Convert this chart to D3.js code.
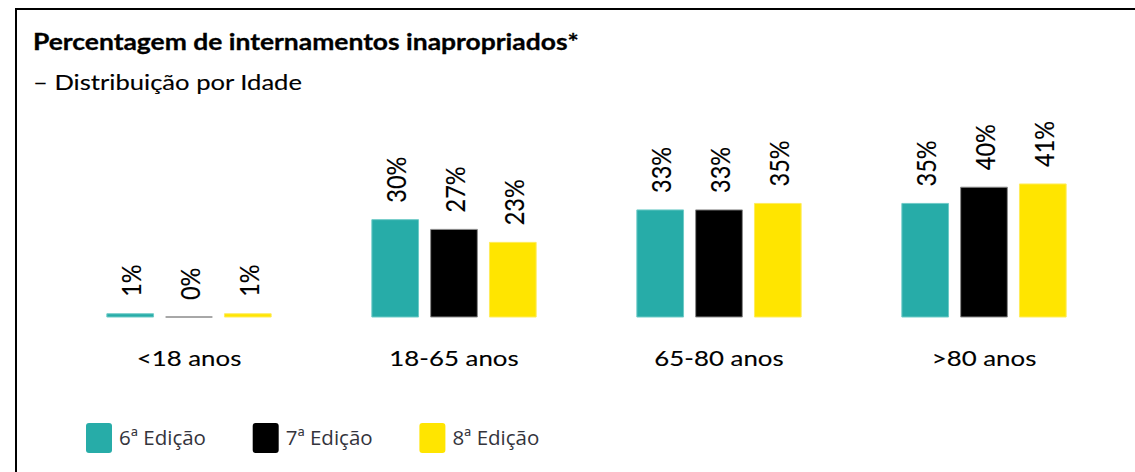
<!DOCTYPE html>
<html>
<head>
<meta charset="utf-8">
<script src="https://cdn.jsdelivr.net/npm/d3@7"></script>
<style>
  body { margin: 0; background: #fff; }
  svg { display: block; }
</style>
</head>
<body>
<div id="chart"></div>
<script>
// chart values
const categories = ["<18 anos", "18-65 anos", "65-80 anos", ">80 anos"];
const seriesNames = ["6ª Edição", "7ª Edição", "8ª Edição"];
const ed6 = [1, 30, 33, 35];
const ed7 = [0, 27, 33, 40];
const ed8 = [1, 23, 35, 41];
const seriesColors = ["#27ACA8", "#000000", "#FFE500"];
const seriesStroke = ["#6FCBC7", "#8a8a8a", "#FFEC5C"];

const titleText = "Percentagem de internamentos inapropriados*";
const subtitleText = "– Distribuição por Idade";

const WIDTH = 1135, HEIGHT = 472;
const FONT = "Lato, 'Open Sans', sans-serif";

let svg = d3.select("#chart").append("svg")
  .attr("width", WIDTH)
  .attr("height", HEIGHT);

svg.append("rect").attr("width", WIDTH).attr("height", HEIGHT).attr("fill", "#fff");

// frame (top + left)
svg.append("line").attr("x1", 15).attr("x2", WIDTH).attr("y1", 9).attr("y2", 9)
  .attr("stroke", "#000").attr("stroke-width", 2);
svg.append("line").attr("x1", 16).attr("x2", 16).attr("y1", 8).attr("y2", HEIGHT)
  .attr("stroke", "#000").attr("stroke-width", 2);

// title (source picture is a bit stretched sideways)
svg.append("text")
  .attr("transform", `translate(33,50) scale(1.175,1)`)
  .style("font-family", FONT).style("font-weight", "bold").style("font-size", "22.5px")
  .attr("fill", "#000").attr("stroke", "#000").attr("stroke-width", 0.3)
  .text(titleText);
svg.append("text")
  .attr("transform", `translate(33,90) scale(1.19,1)`)
  .style("font-family", FONT).style("font-size", "21.5px")
  .attr("fill", "#000").attr("stroke", "#000").attr("stroke-width", 0.12)
  .text(subtitleText);

// scales
let data = categories.map((c, i) => ({
  cat: c,
  values: [ed6[i], ed7[i], ed8[i]].map((v, j) => ({ key: seriesNames[j], idx: j, value: v }))
}));

let x0 = d3.scaleBand()
  .domain(categories)
  .range([56.5, 1116.5])
  .paddingInner(0.38)
  .paddingOuter(0.19);

let x1 = d3.scaleBand()
  .domain(seriesNames)
  .range([0, x0.bandwidth()])
  .paddingInner(0.206);

let baseY = 317;
let yScale = d3.scaleLinear()
  .domain([0, 50])
  .range([baseY, baseY - 162.25]);

let groups = svg.append("g").selectAll("g")
  .data(data)
  .join("g")
  .attr("transform", d => `translate(${x0(d.cat)},0)`);

// bars as paths so a 0% bar still shows its outline
groups.selectAll("path.bar")
  .data(d => d.values)
  .join("path")
  .attr("class", "bar")
  .attr("d", d => {
    let p = d3.path();
    p.rect(x1(d.key), yScale(d.value), x1.bandwidth(), baseY - yScale(d.value));
    return p.toString();
  })
  .attr("fill", d => seriesColors[d.idx])
  .attr("stroke", d => seriesStroke[d.idx])
  .attr("stroke-width", 1);

// value labels, rotated
groups.selectAll("text.val")
  .data(d => d.values)
  .join("text")
  .attr("class", "val")
  .attr("transform", d => `translate(${x1(d.key) + x1.bandwidth() / 2},${yScale(d.value) - 17}) scale(1.18,1) rotate(-90)`)
  .attr("dominant-baseline", "central")
  .style("font-family", FONT).style("font-size", "23.5px")
  .attr("fill", "#000").attr("stroke", "#000").attr("stroke-width", 0.12)
  .text(d => d.value + "%");

// category labels
svg.append("g").selectAll("text")
  .data(categories)
  .join("text")
  .attr("transform", d => `translate(${x0(d) + x0.bandwidth() / 2},366) scale(1.175,1)`)
  .attr("text-anchor", "middle")
  .style("font-family", FONT).style("font-size", "22px")
  .attr("fill", "#000").attr("stroke", "#000").attr("stroke-width", 0.12)
  .text(d => d);

// legend
let legend = svg.append("g").selectAll("g")
  .data(seriesNames)
  .join("g")
  .attr("transform", (d, i) => `translate(${86 + i * 166.7},423)`);

legend.append("rect")
  .attr("width", 26).attr("height", 30).attr("rx", 3)
  .attr("fill", (d, i) => seriesColors[i]);

legend.append("text")
  .attr("x", 33).attr("y", 22)
  .style("font-family", "'Open Sans', 'Noto Sans', sans-serif").style("font-size", "20.5px")
  .attr("fill", "#34343c")
  .text(d => d);
</script>
</body>
</html>
